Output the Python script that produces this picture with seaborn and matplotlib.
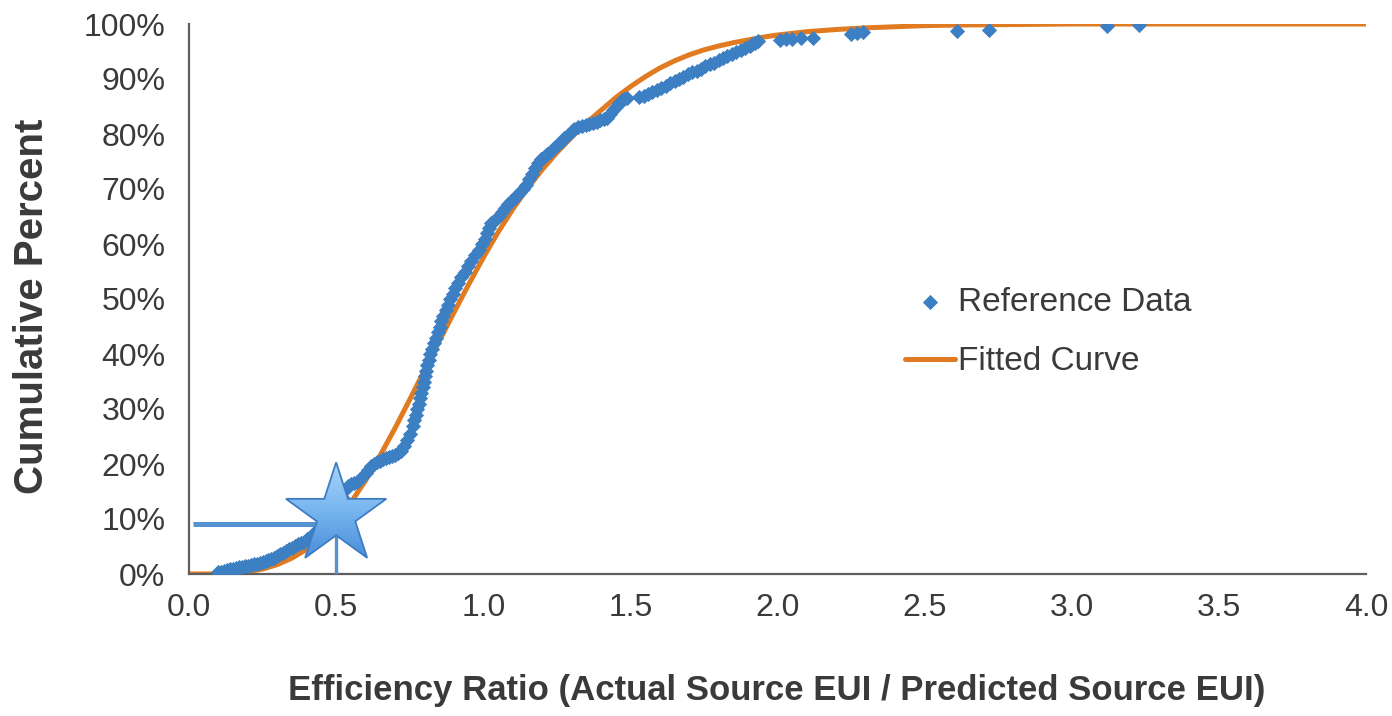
import matplotlib
matplotlib.use("Agg")
import matplotlib.pyplot as plt
import seaborn as sns
import pandas as pd
import numpy as np
from matplotlib.ticker import FuncFormatter
from matplotlib.markers import MarkerStyle
from matplotlib.patches import PathPatch
from matplotlib.transforms import Affine2D
from matplotlib.colors import LinearSegmentedColormap

# ---------------- data ----------------
ref_ratio = [
    0.10, 0.11, 0.12, 0.13, 0.14, 0.15, 0.16, 0.17, 0.18, 0.19, 0.20, 0.21, 0.22, 0.23, 0.24,
    0.25, 0.26, 0.27, 0.28, 0.29, 0.30, 0.31, 0.32, 0.33, 0.34, 0.35, 0.36, 0.37, 0.38, 0.39,
    0.40, 0.41, 0.42, 0.43, 0.44, 0.45, 0.46, 0.47, 0.48, 0.49, 0.50, 0.51, 0.52, 0.53, 0.54,
    0.55, 0.56, 0.57, 0.58, 0.59, 0.60, 0.61, 0.62, 0.63, 0.64, 0.65, 0.66, 0.67, 0.68, 0.69,
    0.70, 0.71, 0.72, 0.73, 0.74, 0.75, 0.76, 0.765, 0.77, 0.775, 0.78, 0.785, 0.79, 0.795,
    0.80, 0.803, 0.806, 0.81, 0.815, 0.82, 0.826, 0.832, 0.838, 0.845, 0.852, 0.858, 0.864,
    0.872, 0.88, 0.888, 0.896, 0.905, 0.915, 0.925, 0.937, 0.948, 0.96, 0.972, 0.985, 0.995,
    1.005, 1.012, 1.018, 1.025, 1.035, 1.045, 1.055, 1.065, 1.075, 1.085, 1.095, 1.105, 1.115,
    1.125, 1.135, 1.145, 1.155, 1.165, 1.175, 1.185, 1.195, 1.205, 1.215, 1.228, 1.24, 1.252,
    1.264, 1.276, 1.288, 1.30, 1.31, 1.322, 1.335, 1.348, 1.36, 1.372, 1.385, 1.398, 1.41,
    1.42, 1.43, 1.44, 1.45, 1.46, 1.47, 1.48, 1.49,
    1.53, 1.545, 1.56, 1.575, 1.59, 1.605, 1.62, 1.635, 1.65, 1.665, 1.68, 1.695, 1.71, 1.725,
    1.74, 1.755, 1.77, 1.785, 1.80, 1.815, 1.83, 1.845, 1.86, 1.875, 1.89, 1.905, 1.915, 1.925,
    1.935,
    2.01, 2.03, 2.05, 2.08, 2.12, 2.25, 2.27, 2.29, 2.61, 2.72, 3.12, 3.23,
]
ref_cum_pct = [
    0.3, 0.4, 0.6, 0.7, 0.9, 1.0, 1.1, 1.2, 1.3, 1.4, 1.5, 1.6, 1.8, 1.9, 2.0,
    2.2, 2.4, 2.6, 2.8, 3.0, 3.3, 3.6, 3.8, 4.1, 4.5, 4.8, 5.1, 5.4, 5.6, 5.9,
    6.3, 6.8, 7.2, 7.7, 8.2, 8.8, 9.4, 10.0, 10.7, 11.4, 12.2, 13.0, 14.0, 15.2, 16.0,
    16.3, 16.5, 16.8, 17.3, 17.9, 18.4, 19.0, 19.6, 20.0, 20.3, 20.6, 20.9, 21.1, 21.3, 21.5,
    21.7, 22.0, 22.4, 23.2, 24.3, 25.5, 27.0, 28.0, 29.0, 30.0, 31.0, 32.0, 33.0, 34.0,
    35.0, 36.0, 37.0, 38.0, 39.0, 40.0, 41.0, 42.0, 43.0, 44.0, 45.0, 46.0, 47.0,
    48.0, 49.0, 50.0, 51.0, 52.0, 53.0, 54.0, 55.0, 56.0, 57.0, 58.0, 59.0, 60.0,
    61.0, 62.0, 63.0, 63.8, 64.2, 64.6, 65.1, 65.8, 66.5, 67.3, 67.8, 68.2, 68.9,
    69.4, 70.0, 70.8, 71.8, 72.8, 73.8, 74.7, 75.4, 75.9, 76.4, 76.8, 77.4, 78.0,
    78.6, 79.2, 79.8, 80.5, 81.0, 81.3, 81.5, 81.6, 81.8, 82.0, 82.2, 82.5, 82.7,
    83.0, 83.6, 84.3, 85.0, 85.6, 86.1, 86.4, 86.6,
    86.8, 87.0, 87.3, 87.7, 88.0, 88.4, 88.8, 89.2, 89.6, 90.0, 90.4, 90.9, 91.2, 91.5,
    91.9, 92.3, 92.7, 93.0, 93.4, 93.8, 94.2, 94.6, 95.0, 95.3, 95.7, 96.0, 96.3, 96.6,
    96.9,
    97.1, 97.2, 97.3, 97.4, 97.5, 98.1, 98.3, 98.5, 98.8, 99.0, 99.7, 99.9,
]

fit_ratio = [0.0, 0.05, 0.1, 0.15, 0.2, 0.25, 0.3, 0.35, 0.4, 0.45, 0.5, 0.55, 0.6, 0.65,
             0.7, 0.75, 0.8, 0.85, 0.9, 0.95, 1.0, 1.05, 1.1, 1.15, 1.2, 1.25, 1.3, 1.35,
             1.4, 1.45, 1.5, 1.55, 1.6, 1.65, 1.7, 1.75, 1.8, 1.85, 1.9, 1.95, 2.0, 2.1,
             2.2, 2.3, 2.4, 2.5, 2.6, 2.8, 3.0, 3.5, 4.0]
fit_cum_pct = [0.0, 0.0, 0.02, 0.12, 0.4, 0.9, 1.7, 2.9, 4.5, 6.7, 9.5, 13.0, 17.0, 21.6,
               26.5, 31.7, 37.0, 42.3, 47.5, 52.6, 57.5, 62.1, 66.3, 70.1, 73.5, 76.6, 79.4,
               82.0, 84.3, 86.6, 88.6, 90.4, 92.0, 93.3, 94.4, 95.3, 96.0, 96.6, 97.1, 97.6,
               98.0, 98.6, 99.0, 99.3, 99.5, 99.7, 99.8, 99.9, 100.0, 100.0, 100.0]

highlight_ratio = 0.5
highlight_pct = 9.1

x_ticks = [0.0, 0.5, 1.0, 1.5, 2.0, 2.5, 3.0, 3.5, 4.0]
y_ticks = [0, 10, 20, 30, 40, 50, 60, 70, 80, 90, 100]

x_label = "Efficiency Ratio (Actual Source EUI / Predicted Source EUI)"
y_label = "Cumulative Percent"
series_names = ["Reference Data", "Fitted Curve"]

# ---------------- style ----------------
sns.set_style("white")
plt.rcParams["font.family"] = ["Liberation Sans", "DejaVu Sans"]

BLUE = "#3d7fc3"
ORANGE = "#e07b22"
TXT = "#3a3a3a"
AXC = "#5e5e5e"

W, H, DPI = 1392, 716, 100
fig = plt.figure(figsize=(W / DPI, H / DPI), dpi=DPI)
ax = fig.add_axes([189 / W, 1 - 574 / H, (1366 - 189) / W, (574 - 24) / H])

df_ref = pd.DataFrame({"ratio": ref_ratio, "pct": ref_cum_pct})
df_fit = pd.DataFrame({"ratio": fit_ratio, "pct": fit_cum_pct})

sns.lineplot(data=df_fit, x="ratio", y="pct", ax=ax, color=ORANGE, linewidth=3.6,
             label=series_names[1], zorder=2)
sns.scatterplot(data=df_ref, x="ratio", y="pct", ax=ax, color=BLUE, marker="D", s=60,
                linewidth=0, label=series_names[0], zorder=3)

ax.set_xlim(0, 4.0)
ax.set_ylim(0, 100)

# highlight lines
ax.plot([0.015, highlight_ratio], [highlight_pct, highlight_pct], color="#5592d2",
        linewidth=3.6, solid_capstyle="butt", zorder=4)
ax.plot([highlight_ratio, highlight_ratio], [0, highlight_pct], color="#5592d2",
        linewidth=2.4, solid_capstyle="butt", zorder=4)

# gradient-filled star
star_center_pct = highlight_pct + 1.6
star_size_pt = 76
r_px = star_size_pt * DPI / 72.0  # marker path has radius 0.5 -> scale by size
ms = MarkerStyle("*")
unit_star = ms.get_path().transformed(ms.get_transform())
cx, cy = ax.transData.transform((highlight_ratio, star_center_pct))
star_tr = Affine2D().scale(r_px).translate(cx, cy)
star_patch = PathPatch(unit_star, transform=star_tr, facecolor="none",
                       edgecolor="#3f7cc2", linewidth=1.3, zorder=6)
ax.add_patch(star_patch)
inv = ax.transData.inverted()
(x0, y0) = inv.transform((cx - r_px * 0.5, cy - r_px * 0.5 * 0.81))
(x1, y1) = inv.transform((cx + r_px * 0.5, cy + r_px * 0.5))
grad = np.linspace(0, 1, 256).reshape(-1, 1)
cmap = LinearSegmentedColormap.from_list("starg", ["#4a8edb", "#78b5ef", "#a9d5fb"])
im = ax.imshow(grad, extent=[x0, x1, y0, y1], origin="lower", aspect="auto", cmap=cmap,
               zorder=5, interpolation="bilinear")
im.set_clip_path(star_patch)
ax.set_xlim(0, 4.0)
ax.set_ylim(0, 100)

ax.set_xticks(x_ticks)
ax.set_yticks(y_ticks)
ax.xaxis.set_major_formatter(FuncFormatter(lambda v, p: f"{v:.1f}"))
ax.yaxis.set_major_formatter(FuncFormatter(lambda v, p: f"{v:.0f}%"))

for side in ["top", "right"]:
    ax.spines[side].set_visible(False)
for side in ["left", "bottom"]:
    ax.spines[side].set_color(AXC)
    ax.spines[side].set_linewidth(1.6)

ax.tick_params(axis="both", which="major", direction="out", length=7, width=1.5,
               color=AXC, labelcolor=TXT, labelsize=23)
ax.tick_params(axis="y", pad=10)
ax.tick_params(axis="x", pad=7)

ax.set_xlabel(x_label, fontsize=25, fontweight="bold", color=TXT, va="top")
ax.set_ylabel(y_label, fontsize=29, fontweight="bold", color=TXT)
ax.xaxis.set_label_coords((777 - 189) / 1177, (574 - 674) / 550)
ax.yaxis.set_label_coords((51 - 189) / 1177, (574 - 306) / 550)

handles, labels = ax.get_legend_handles_labels()
order = [labels.index(series_names[0]), labels.index(series_names[1])]
leg = ax.legend([handles[i] for i in order], [labels[i] for i in order],
                loc="center left", bbox_to_anchor=(905 / W, 1 - 332 / H),
                bbox_transform=fig.transFigure, frameon=False, fontsize=24,
                handlelength=1.5, handletextpad=0.1, labelspacing=0.86,
                borderaxespad=0, borderpad=0, markerscale=1.0)
for t in leg.get_texts():
    t.set_color(TXT)

fig.savefig("out.png", dpi=DPI)
